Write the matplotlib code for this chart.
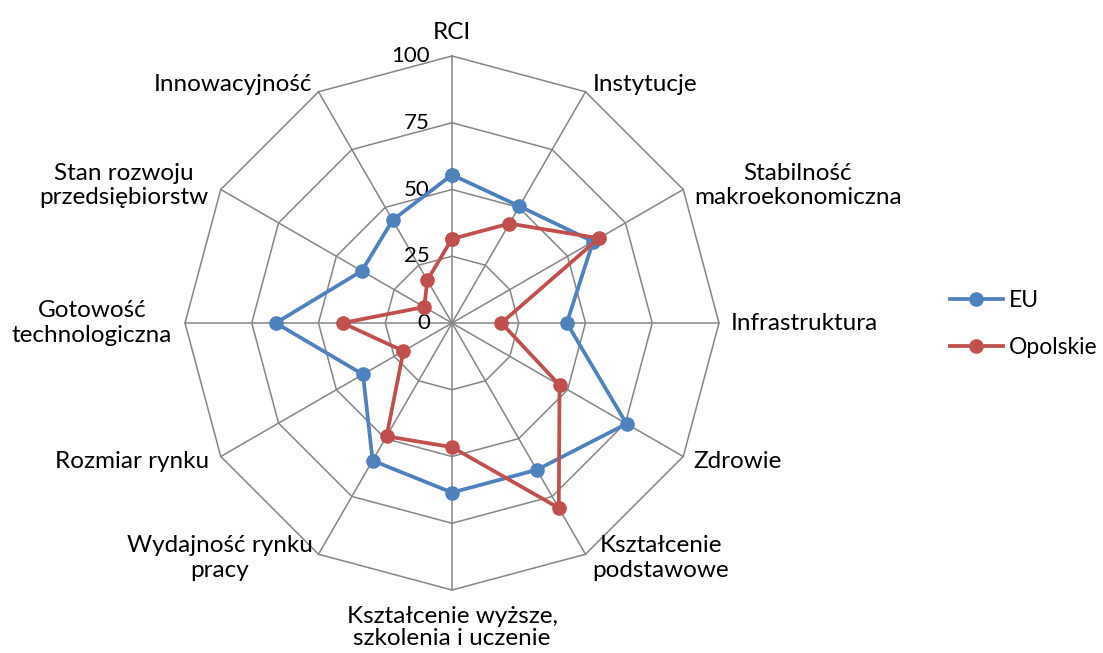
import numpy as np
import matplotlib
matplotlib.use("Agg")
import matplotlib.pyplot as plt

categories = ["RCI", "Instytucje", "Stabilność\nmakroekonomiczna", "Infrastruktura",
              "Zdrowie", "Kształcenie\npodstawowe", "Kształcenie wyższe,\nszkolenia i uczenie",
              "Wydajność rynku\npracy", "Rozmiar rynku", "Gotowość\ntechnologiczna",
              "Stan rozwoju\nprzedsiębiorstw", "Innowacyjność"]
eu = [55.5, 50.5, 61, 43, 75.5, 63.5, 63.5, 59.5, 38.5, 66, 39, 44.5]
opolskie = [31.5, 43, 63.5, 18.5, 46.5, 80, 46.5, 49, 21, 41, 12, 18.5]
rticks = [0, 25, 50, 75, 100]
series_names = ["EU", "Opolskie"]

C_EU = "#4F81BD"
C_OP = "#C0504D"
GRID = "#858585"
FONT = "Lato"
FS = 17.5

W, H = 1103, 653
fig = plt.figure(figsize=(W / 100, H / 100), dpi=100)
cx, cy, R = 452, 323, 267
ax = fig.add_axes([(cx - R) / W, (H - cy - R) / H, 2 * R / W, 2 * R / H], polar=True)
ax.set_theta_offset(np.pi / 2)
ax.set_theta_direction(-1)
ax.set_ylim(0, 100)
ax.grid(False)
ax.spines["polar"].set_visible(False)
ax.set_xticks([])
ax.set_yticks([])
ax.patch.set_alpha(0)

n = len(categories)
theta = np.arange(n) * 2 * np.pi / n
tc = np.append(theta, theta[0])

# polygon grid
for r in rticks[1:]:
    ax.plot(tc, [r] * (n + 1), color=GRID, lw=1.1, zorder=1, clip_on=False)
for t in theta:
    ax.plot([t, t], [0, 100], color=GRID, lw=1.1, zorder=1, clip_on=False)

# radial tick labels
for r in rticks:
    ax.annotate(str(r), xy=(0, r), xytext=(-22, 0), textcoords="offset pixels",
                ha="right", va="center", fontsize=16, family=FONT,
                annotation_clip=False, zorder=2)

# series
l1, = ax.plot(tc, eu + [eu[0]], color=C_EU, lw=2.7, marker="o", ms=9.5,
              zorder=3, clip_on=False, label=series_names[0])
l2, = ax.plot(tc, opolskie + [opolskie[0]], color=C_OP, lw=2.7, marker="o", ms=9.5,
              zorder=4, clip_on=False, label=series_names[1])

# category labels: (ha, va, dx, dy) in pixels
place = [
    ("center", "bottom", 0, 13),
    ("left", "bottom", 7, -3),
    ("left", "center", 11, 4),
    ("left", "center", 12, 0),
    ("left", "center", 10, -5),
    ("left", "top", 7, 19),
    ("center", "top", 0, -16),
    ("right", "top", -6, 19),
    ("right", "center", -12, -5),
    ("right", "center", -13, 0),
    ("right", "center", -12, 4),
    ("right", "bottom", -6, -3),
]
for t, lab, (ha, va, dx, dy) in zip(theta, categories, place):
    ls = 1.05 if t == np.pi else 1.2
    ax.annotate(lab, xy=(t, 100), xytext=(dx, dy), textcoords="offset pixels",
                ha=ha, va=va, multialignment="center", fontsize=FS, family=FONT,
                annotation_clip=False, linespacing=ls)

fig.legend(handles=[l1, l2], loc="center left",
           bbox_to_anchor=(950 / W, 1 - 324 / H), frameon=False, borderpad=0,
           borderaxespad=0,
           prop={"family": FONT, "size": 16.5}, handlelength=2.3,
           handletextpad=0.25, labelspacing=1.1, numpoints=1)

fig.savefig("out.png", dpi=100)
